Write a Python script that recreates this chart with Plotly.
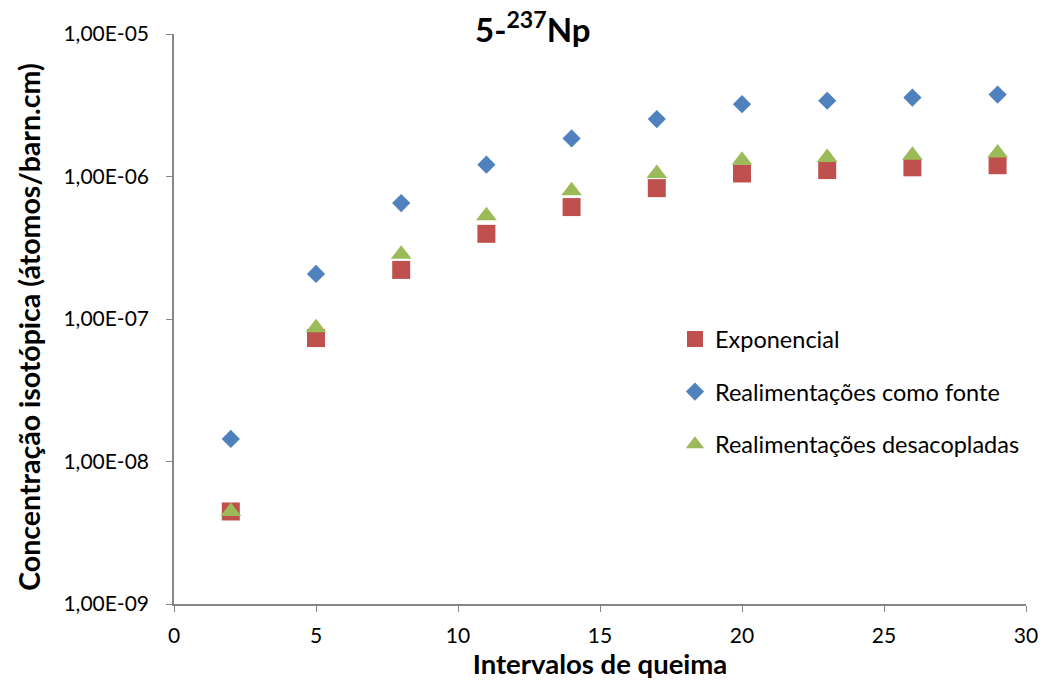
import plotly.graph_objects as go

x_vals = [2, 5, 8, 11, 14, 17, 20, 23, 26, 29]
exponencial = [4.46e-9, 7.35e-8, 2.21e-7, 3.96e-7, 6.10e-7, 8.29e-7, 1.05e-6, 1.11e-6, 1.16e-6, 1.20e-6]
como_fonte = [1.44e-8, 2.07e-7, 6.51e-7, 1.21e-6, 1.85e-6, 2.53e-6, 3.22e-6, 3.40e-6, 3.58e-6, 3.76e-6]
desacopladas = [4.46e-9, 8.68e-8, 2.85e-7, 5.30e-7, 7.94e-7, 1.05e-6, 1.30e-6, 1.36e-6, 1.41e-6, 1.46e-6]

y_tickvals = [1e-9, 1e-8, 1e-7, 1e-6, 1e-5]
y_ticktext = ["1,00E-09", "1,00E-08", "1,00E-07", "1,00E-06", "1,00E-05"]
x_tickvals = [0, 5, 10, 15, 20, 25, 30]

FONT = "Lato"
AXIS_COLOR = "#868686"

# plot area sits at x 174..1030, y 34..604 (body margin removed below)
W, H = 1050, 687
L, T, PW, PH = 174, 34, 856, 570
R = W - L - PW
B = H - T - PH

fig = go.Figure()
fig.add_trace(go.Scatter(
    x=x_vals, y=exponencial, mode="markers", name="Exponencial", legendgroup="a",
    marker=dict(symbol="square", size=18, color="#C0504D"),
))
fig.add_trace(go.Scatter(
    x=x_vals, y=como_fonte, mode="markers", name="Realimentações como fonte", legendgroup="b",
    marker=dict(symbol="diamond", size=14, color="#4F81BD"),
))
fig.add_trace(go.Scatter(
    x=x_vals, y=desacopladas, mode="markers", name="Realimentações desacopladas", legendgroup="c",
    marker=dict(symbol="triangle-up", size=18, color="#9BBB59"),
))

fig.update_layout(
    width=W, height=H,
    margin=dict(l=L, r=R, t=T, b=B),
    paper_bgcolor="white", plot_bgcolor="white",
    font=dict(family=FONT, size=21, color="black"),
    showlegend=True,
    legend=dict(
        x=0.588, y=0.503, xanchor="left", yanchor="top",
        font=dict(family=FONT, size=23.5, color="black"),
        bgcolor="rgba(0,0,0,0)", tracegroupgap=19,
        traceorder="grouped",
    ),
    xaxis=dict(
        range=[0, 30], tickvals=x_tickvals, ticks="outside", ticklen=6,
        tickcolor=AXIS_COLOR, showline=True, linecolor=AXIS_COLOR, linewidth=1.5,
        showgrid=False, zeroline=False, tickfont=dict(size=21), ticklabelstandoff=6,
        title=dict(text="<b>Intervalos de queima</b>", font=dict(size=27.5), standoff=6),
    ),
    yaxis=dict(
        type="log", range=[-9, -5], tickvals=y_tickvals, ticktext=y_ticktext,
        ticks="outside", ticklen=6, tickcolor=AXIS_COLOR, showline=True,
        linecolor=AXIS_COLOR, linewidth=1.5, showgrid=False, zeroline=False,
        tickfont=dict(size=21), ticklabelstandoff=13,
    ),
    annotations=[
        dict(
            text="<b>5-<sup>237</sup>Np</b>",
            x=(535 - L) / PW, y=(604 - 27) / PH, xref="paper", yref="paper",
            xanchor="center", yanchor="middle",
            showarrow=False, font=dict(size=33, family=FONT),
        ),
        dict(
            text="<b>Concentração isotópica (átomos/barn.cm)</b>",
            x=(28 - L) / PW, y=(604 - 327) / PH, xref="paper", yref="paper",
            xanchor="center", yanchor="middle", textangle=-90,
            showarrow=False, font=dict(size=28.5, family=FONT),
        ),
    ],
)

fig.write_html(
    "out.html",
    config={"displayModeBar": False},
    post_script="document.body.style.margin='0';",
)
